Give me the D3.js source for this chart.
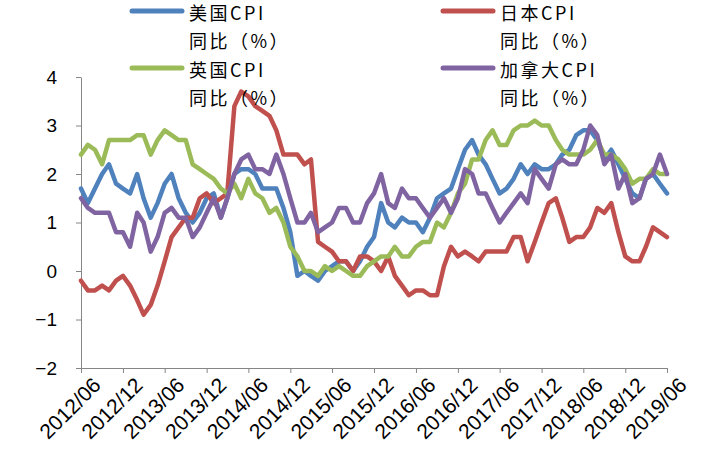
<!DOCTYPE html>
<html><head><meta charset="utf-8">
<script src="https://cdn.jsdelivr.net/npm/d3@7"></script>
<style>
html,body{margin:0;padding:0;background:#fff;}
svg{display:block;}
</style></head>
<body>
<svg id="chart" width="705" height="456"></svg>
<script>
// Monthly categories 2012/06 .. 2019/06
const startMonth = new Date(2012, 5, 1);
const endMonth = new Date(2019, 5, 1);
const months = d3.timeMonth.range(startMonth, d3.timeMonth.offset(endMonth, 1));
const tickLabels = ["2012/06","2012/12","2013/06","2013/12","2014/06","2014/12","2015/06","2015/12","2016/06","2016/12","2017/06","2017/12","2018/06","2018/12","2019/06"];
const yTicks = [-2,-1,0,1,2,3,4];

const usCPI = [1.7,1.4,1.7,2.0,2.2,1.8,1.7,
 1.6,2.0,1.5,1.1,1.4,1.8,2.0,1.5,1.2,1.0,1.2,1.5,
 1.6,1.1,1.5,2.0,2.1,2.1,2.0,1.7,1.7,1.7,1.3,0.8,
 -0.1,0.0,-0.1,-0.2,0.0,0.1,0.2,0.2,0.0,0.2,0.5,0.7,
 1.4,1.0,0.9,1.1,1.0,1.0,0.8,1.1,1.5,1.6,1.7,2.1,
 2.5,2.7,2.4,2.2,1.9,1.6,1.7,1.9,2.2,2.0,2.2,2.1,
 2.1,2.2,2.4,2.5,2.8,2.9,2.9,2.7,2.3,2.5,2.2,1.9,
 1.6,1.5,1.9,2.0,1.8,1.6];
const jpCPI = [-0.2,-0.4,-0.4,-0.3,-0.4,-0.2,-0.1,
 -0.3,-0.6,-0.9,-0.7,-0.3,0.2,0.7,0.9,1.1,1.1,1.5,1.6,
 1.4,1.5,1.6,3.4,3.7,3.6,3.4,3.3,3.2,2.9,2.4,2.4,
 2.4,2.2,2.3,0.6,0.5,0.4,0.2,0.2,0.0,0.3,0.3,0.2,
 0.0,0.3,-0.1,-0.3,-0.5,-0.4,-0.4,-0.5,-0.5,0.1,0.5,0.3,
 0.4,0.3,0.2,0.4,0.4,0.4,0.4,0.7,0.7,0.2,0.6,1.0,
 1.4,1.5,1.1,0.6,0.7,0.7,0.9,1.3,1.2,1.4,0.8,0.3,
 0.2,0.2,0.5,0.9,0.8,0.7];
const ukCPI = [2.4,2.6,2.5,2.2,2.7,2.7,2.7,
 2.7,2.8,2.8,2.4,2.7,2.9,2.8,2.7,2.7,2.2,2.1,2.0,
 1.9,1.7,1.6,1.8,1.5,1.9,1.6,1.5,1.2,1.3,1.0,0.5,
 0.3,0.0,0.0,-0.1,0.1,0.0,0.1,0.0,-0.1,-0.1,0.1,0.2,
 0.3,0.3,0.5,0.3,0.3,0.5,0.6,0.6,1.0,0.9,1.2,1.6,
 1.8,2.3,2.3,2.7,2.9,2.6,2.6,2.9,3.0,3.0,3.1,3.0,
 3.0,2.7,2.5,2.4,2.4,2.4,2.5,2.7,2.4,2.4,2.3,2.1,
 1.8,1.9,1.9,2.1,2.0,2.0];
const caCPI = [1.5,1.3,1.2,1.2,1.2,0.8,0.8,
 0.5,1.2,1.0,0.4,0.7,1.2,1.3,1.1,1.1,0.7,0.9,1.2,
 1.5,1.1,1.5,2.0,2.3,2.4,2.1,2.1,2.0,2.4,2.0,1.5,
 1.0,1.0,1.2,0.8,0.9,1.0,1.3,1.3,1.0,1.0,1.4,1.6,
 2.0,1.4,1.3,1.7,1.5,1.5,1.3,1.1,1.3,1.5,1.2,1.5,
 2.1,2.0,1.6,1.6,1.3,1.0,1.2,1.4,1.6,1.4,2.1,1.9,
 1.7,2.2,2.3,2.2,2.2,2.5,3.0,2.8,2.2,2.4,1.7,2.0,
 1.4,1.5,1.9,2.0,2.4,2.0];

const seriesNames = ["美国CPI","日本CPI","英国CPI","加拿大CPI"];
const seriesData = [usCPI, jpCPI, ukCPI, caCPI];
const seriesColors = ["#4F81BD","#C0504D","#9BBB59","#8064A2"];

const svg = d3.select("#chart");
const x0 = 81, x1 = 667, yTop = 77, yBot = 368;
const x = d3.scaleTime().domain([startMonth, endMonth]).range([x0, x1]);
const y = d3.scaleLinear().domain([-2, 4]).range([yBot, yTop]);
const axisColor = "#868686";
const tickFont = "'Liberation Sans', Arial, sans-serif";

// Y axis
const yAxis = svg.append("g").attr("transform", `translate(${x0},0)`)
  .call(d3.axisLeft(y).tickValues(yTicks).tickFormat(d3.format("d")).tickSize(5).tickSizeOuter(0));
yAxis.select(".domain").attr("stroke", axisColor);
yAxis.selectAll(".tick line").attr("stroke", axisColor);
yAxis.selectAll(".tick text").attr("font-family", tickFont)
  .attr("font-size", 19).attr("fill", "#000").attr("x", -24);

// X axis
const tickDates = tickLabels.map(s => new Date(+s.slice(0,4), +s.slice(5,7)-1, 1));
const xAxis = svg.append("g").attr("transform", `translate(0,${yBot})`)
  .call(d3.axisBottom(x).tickValues(tickDates).tickFormat((d,i)=>tickLabels[i]).tickSize(5).tickSizeOuter(0));
xAxis.select(".domain").attr("stroke", axisColor);
xAxis.selectAll(".tick line").attr("stroke", axisColor);
xAxis.selectAll(".tick text")
  .attr("font-family", tickFont)
  .attr("font-size", 21).attr("fill", "#000")
  .attr("text-anchor", "end")
  .attr("transform", "translate(10,8) rotate(-45)")
  .attr("dy", "0.71em").attr("y", 0).attr("x", 0);

// Lines
const line = d3.line().x((d,i)=>x(months[i])).y(d=>y(d));
seriesData.forEach((arr, k) => {
  svg.append("path").datum(arr)
    .attr("fill","none").attr("stroke", seriesColors[k])
    .attr("stroke-width", 4.5).attr("stroke-linejoin","round").attr("stroke-linecap","round")
    .attr("d", line);
});

// Legend
const legendPos = [[130,11],[441,11],[130,68],[441,68]];
seriesNames.forEach((name, k) => {
  const [lx, ly] = legendPos[k];
  const g = svg.append("g").attr("transform", `translate(${lx},${ly})`);
  g.append("line").attr("x1",2).attr("x2",52).attr("y1",0).attr("y2",0)
    .attr("stroke", seriesColors[k]).attr("stroke-width",5).attr("stroke-linecap","round");
  g.append("text").attr("x", 59).attr("y", 9)
    .attr("font-family","'Noto Sans CJK SC', sans-serif").attr("font-size",18)
    .attr("letter-spacing", 2.5).attr("fill","#000")
    .text(name);
  g.append("text").attr("x", 59).attr("y", 37)
    .attr("font-family","'Noto Sans CJK SC', sans-serif").attr("font-size",18)
    .attr("letter-spacing", 2.5).attr("fill","#000")
    .text("同比（%）");
});
</script>
</body></html>
